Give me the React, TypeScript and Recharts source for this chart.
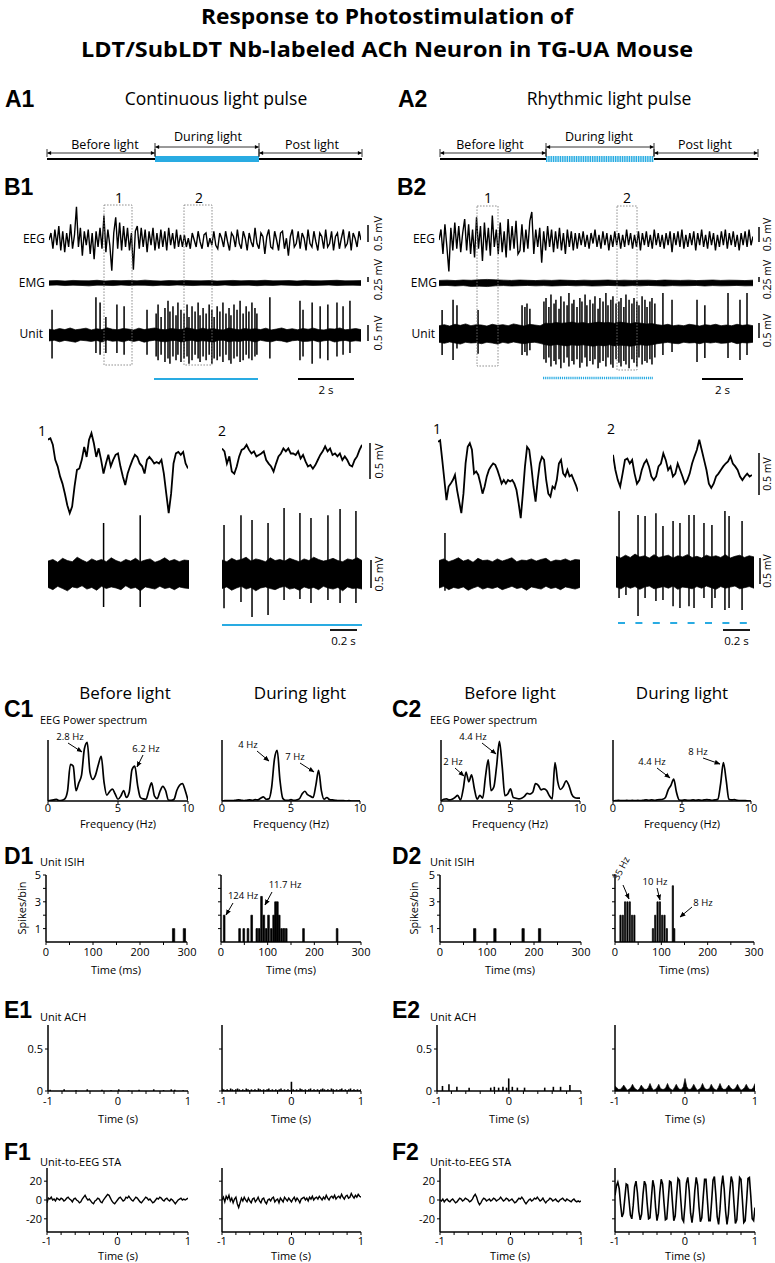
import React from 'react';
import { LineChart, Line, AreaChart, Area, ComposedChart, Bar, XAxis, YAxis } from 'recharts';

const FONT = "'Open Sans', 'DejaVu Sans', sans-serif";
const HEAVY = "'Liberation Sans', Arial, sans-serif";
const LIGHT = '#29abe2';
const ZERO = { top: 0, right: 0, bottom: 0, left: 0 };

// ---- B: long recordings (EEG in uV, sample index on x) ----
const b1Eeg = [
  0, 200, -250, 300, -150, 400, -300, 250, -350, 200, -200, 450, -250, 150, 950, -200, 350, -450, 250, -150,
  300, -400, 200, -550, 250, -200, 350,
  -250, 700, -350, 300, -150, -880, 200, 650, -250, 500, -300, 400, -200, 350, -300, 200, -850, 250,
  400, -250, 350, -200, 300, -350, 250, -150, 350, -300, 200, -250, 300, -200, 250, -300, 350, -150, 200, -250,
  300, -200, 150, -200,
  150, -200, 50, -250, 200, 0, -200, 250, -50, -250, 150, 200, -200, 50, -150, 250, -150, -250, 200, 50, -200, 250,
  -50, -300, 200, 100, -200, 300, -100, -250, 250, 50, -300, 200, -50, -200, 350, -100, -250, 200, 100, -400, 100, 300,
  -200, -250, 250, 0, -300, 200, 250, -250, 50, -450, 100, 300, -200, -100, 250, -250, 200, 50, -300, 300, -100, -200,
  250, -50, -300, 200, 100, -250, 300, -200, -100, 250, -300, 100, 200, -250, 50, 300, -200, -100, 250, -300, 200, 50,
  -200, 250, 0,
];
const b2Eeg = [
  0, 300, -400, 450, -200, -900, 350, -300, 500, -250, 400, -350, 200, 600, -300, 450, -400, 300, -500, 650,
  -250, 400, -600, 500, -300, 350, -450, 700, -200, 300, -400, 500, -350, 250, -500, 600, -300, 400, -250, 550, -400,
  -300, 450, -350, 300, -250, 550, 800, -400, 300, -200, 350, -650, 250, -300, 400, -200, 300, -350, 250, -250,
  350, -300, 200, -400, 300, -200, 250, -300, 200, -250,
  200, -150, 250, -200, 150, -250, 200, -100, 300, -200, 150, -250, 250, -150, 200, -300, 150, -200, 250, -150, 200, -250,
  150, -200, 300, -150, 200, -250, 150, -200, 250, -300, 200, -150, 250, -200, 150, -250, 300, -150, 200, -200, 150, -250,
  200, -150, 250, -350, 200, -150, 250, -200, 300, -250, 150, -200, 200, -150, 250, -300, 200, -150, 300, -200, 150, -250,
  250, -150, 200, -300, 150, -200, 250, -150, 300, -250, 200, -150, 250, -200, 150, -300, 200, -150, 250, -200, 300, -150, 100,
];
const b1EmgHi = [150, 170, 140, 180, 160, 150, 190, 140, 170, 160, 180, 150, 200, 160, 140, 170, 150, 180, 160, 150, 170, 140, 160, 180, 150, 170, 160, 190, 150, 160, 170, 140, 180, 160, 150, 170, 190, 150, 160, 170];
const b1EmgLo = [-160, -140, -180, -150, -170, -200, -150, -160, -180, -140, -170, -150, -160, -190, -150, -170, -140, -160, -180, -150, -160, -170, -140, -180, -160, -150, -190, -160, -170, -140, -160, -180, -150, -170, -160, -140, -180, -160, -150, -170];
const b2EmgHi = [180, 200, 170, 210, 190, 230, 250, 220, 200, 180, 210, 190, 170, 200, 180, 210, 190, 170, 200, 180, 190, 210, 170, 200, 180, 190, 200, 170, 210, 190, 180, 200, 170, 190, 210, 180, 200, 190, 170, 200];
const b2EmgLo = [-190, -170, -210, -180, -240, -220, -250, -200, -180, -210, -190, -170, -200, -180, -210, -190, -170, -200, -180, -210, -200, -170, -190, -210, -180, -200, -170, -190, -210, -180, -200, -190, -170, -210, -180, -200, -190, -170, -200, -190];

// unit background band (uV) and spikes (time s, up/down uV)
const b1UnitHi = [
  160, 140, 180, 150, 195, 145, 165, 190, 140, 175, 150, 200, 160, 145, 180, 165, 140, 190, 150, 175,
  195, 160, 145, 180, 165, 150, 200, 175, 145, 190, 160, 180, 150, 140, 195, 165, 145, 180, 160, 175,
  150, 190, 140, 165, 195, 150, 175, 145, 180, 160, 190, 150, 140, 175, 165, 195, 145, 160, 180, 150,
];
const b1UnitLo = [
  -165, -145, -190, -150, -175, -200, -145, -160, -180, -150, -195, -140, -175, -160, -190, -145, -180, -150, -200, -165,
  -145, -175, -190, -160, -150, -195, -165, -145, -180, -160, -175, -200, -150, -145, -190, -165, -180, -150, -160, -195,
  -145, -175, -190, -150, -165, -200, -160, -145, -180, -175, -150, -190, -160, -145, -195, -165, -150, -180, -160, -175,
];
const b1SpikeT = [
  0.11, 1.70, 1.85, 2.06, 2.46, 2.72, 3.55, 3.88, 3.95, 4.06, 4.20, 4.31, 4.38, 4.49, 4.60, 4.67, 4.78, 4.89, 5.00, 5.07,
  5.18, 5.29, 5.40, 5.47, 5.58, 5.69, 5.80, 5.90, 5.98, 6.09, 6.19, 6.30, 6.41, 6.52, 6.59, 6.70, 6.81, 6.92, 7.03, 7.14,
  7.24, 7.35, 7.46, 7.53, 8.00, 9.09, 9.20, 9.53, 9.82, 10.10, 10.43, 10.65, 10.90,
];
const b1SpikeUp = [
  700, 1050, 900, 500, 850, 800, 700, 600, 850, 500, 750, 950, 650, 800, 550, 900, 700, 600, 850, 500,
  800, 650, 900, 550, 750, 600, 850, 700, 500, 800, 650, 900, 600, 750, 550, 850, 700, 950, 600, 800,
  650, 900, 750, 600, 1050, 950, 700, 900, 800, 850, 900, 800, 950,
];
const b1SpikeDown = [
  -650, -500, -550, -500, -500, -550, -550, -600, -700, -550, -750, -650, -800, -600, -700, -550, -750, -650, -600, -800,
  -700, -550, -650, -750, -600, -700, -550, -800, -650, -700, -600, -750, -550, -700, -800, -650, -600, -750, -700, -550,
  -650, -700, -600, -550, -650, -700, -600, -800, -650, -700, -600, -550, -500,
];
const b2UnitHi = [
  230, 260, 220, 270, 240, 280, 230, 260, 250, 220, 270, 240, 260, 230, 280, 250, 220, 270, 250, 230,
  300, 290, 320, 300, 310, 330, 300, 320, 290, 310, 330, 310, 320, 300, 330, 310, 290, 320, 300, 280,
  290, 260, 240, 270, 230, 250, 230, 270, 250, 220, 260, 240, 270, 230, 250, 230, 270, 240, 260, 230,
];
const b2UnitLo = [
  -230, -260, -220, -250, -280, -230, -250, -240, -270, -230, -250, -280, -230, -260, -220, -250, -270, -240, -230, -260,
  -300, -320, -290, -310, -330, -300, -320, -300, -320, -340, -310, -330, -300, -330, -310, -320, -340, -310, -300, -320,
  -300, -270, -250, -230, -260, -270, -230, -250, -240, -270, -230, -250, -230, -260, -250, -220, -270, -240, -250, -230,
];
const b2SpikeT = [
  0.15, 0.68, 0.87, 1.89, 4.02, 4.16, 4.26, 4.40, 5.08, 5.18, 5.32, 5.42, 5.57, 5.66, 5.81, 5.90, 6.05, 6.20, 6.29, 6.44,
  6.53, 6.68, 6.82, 6.92, 7.07, 7.16, 7.31, 7.45, 7.55, 7.70, 7.79, 7.94, 8.08, 8.18, 8.32, 8.42, 8.57, 8.71, 8.81, 8.95,
  9.05, 9.20, 9.34, 9.44, 9.58, 9.68, 9.83, 9.97, 10.07, 10.21, 10.31, 10.45, 10.84, 11.28, 12.49, 12.87, 13.99, 14.57, 14.91,
];
const b2SpikeUp = [
  670, 950, 800, 670, 800, 750, 850, 700, 900, 1000, 750, 1100, 850, 950, 700, 1050, 900, 800, 1140, 850,
  950, 750, 1000, 900, 1100, 800, 950, 850, 1050, 700, 1000, 900, 1140, 800, 950, 1050, 850, 900, 1000, 750,
  1100, 950, 850, 1000, 900, 800, 1050, 950, 750, 900, 1000, 850, 1140, 950, 950, 800, 1140, 950, 1140,
];
const b2SpikeDown = [
  -580, -720, -400, -550, -580, -500, -600, -450, -700, -800, -650, -900, -750, -850, -700, -950, -800, -650, -900, -750,
  -850, -700, -940, -800, -650, -900, -750, -850, -700, -950, -800, -750, -900, -650, -850, -940, -700, -800, -900, -750,
  -850, -950, -700, -800, -900, -650, -850, -750, -800, -700, -850, -650, -580, -500, -780, -670, -670, -720, -580,
];

// ---- B: expanded epochs 1 and 2 (EEG in 10 uV steps) ----
const b1Zoom1Eeg = [31, 33, 24, 3, -6, -20, -30, -44, -60, -71, -62, -34, -11, -9, 3, 21, 7, 31, 40, 26, 7, 19, 3, -16, -2, 10, -6, 3, 10, 12, -6, -20, -32, -16, -6, 3, 10, 7, -2, -6, -16, 3, 7, 3, -2, 0, -2, 3, -16, -44, -71, -44, -2, 12, 14, 10, 14, -2, -9];
const b1Zoom2Eeg = [16, 12, -5, 5, -16, -19, -9, 5, 14, 16, 21, 14, 9, 12, 5, 7, 9, 12, 0, -5, -9, -16, -5, 5, 9, 16, 12, 16, 9, 9, 7, 12, 2, 7, -2, -9, -7, -12, -7, 0, 7, 12, 19, 12, 16, 7, 9, 5, 9, 0, 5, 0, -7, -9, 0, 5, 14, 21];
const b2Zoom1Eeg = [53, 55, 28, 0, -28, -9, -5, 0, 7, -14, -30, -46, -19, 23, 46, 51, 42, 9, 12, 7, -5, -19, -9, 5, 14, 19, 23, 21, 14, 5, -5, 0, -5, 0, -2, 0, -5, -14, -32, -53, -19, 19, 46, 42, 19, -9, -30, 0, 23, 32, 28, 0, -19, -23, -9, -12, 0, 23, 28, 9, 5, 14, 5, 7, 0, -7, -16];
const b2Zoom2Eeg = [21, 0, -14, -23, -5, 14, 16, 9, 14, -5, -19, -14, 0, 9, 14, 5, -9, -14, -9, 5, 9, 23, 14, 0, 5, -9, -5, 9, 0, -9, -19, -14, -5, 9, 19, 28, 42, 28, 14, 0, -19, -25, -19, -9, -5, 0, 5, 9, 12, 19, 9, 5, 0, -9, -14, -9, -5, -9, -7];

const b1Zoom1Hi = [230, 260, 210, 280, 240, 220, 300, 250, 210, 270, 230, 260, 220, 290, 240, 210, 260, 230, 280, 220, 250, 270, 210, 240, 290, 230, 260, 220, 250, 240];
const b1Zoom1Lo = [-240, -280, -220, -260, -300, -230, -250, -210, -270, -240, -290, -220, -260, -230, -250, -280, -210, -260, -240, -300, -230, -250, -270, -220, -260, -240, -280, -230, -250, -260];
const b1Zoom1SpikeT = [0.41, 0.68];
const b1Zoom1SpikeUp = [910, 1050];
const b1Zoom1SpikeDown = [-590, -590];
const b1Zoom2Hi = [250, 220, 280, 240, 260, 300, 230, 270, 250, 220, 290, 240, 260, 230, 280, 250, 220, 270, 240, 300, 260, 230, 250, 280, 240, 220, 270, 250, 290, 240];
const b1Zoom2Lo = [-260, -230, -290, -250, -220, -270, -240, -300, -250, -230, -260, -280, -240, -220, -270, -250, -290, -230, -260, -240, -280, -220, -250, -270, -240, -300, -230, -260, -250, -270];
const b1Zoom2SpikeT = [0.015, 0.141, 0.223, 0.342, 0.461, 0.579, 0.661, 0.787, 0.877, 0.995];
const b1Zoom2SpikeUp = [875, 1050, 965, 910, 1180, 1090, 1000, 1050, 1160, 1125];
const b1Zoom2SpikeDown = [-610, -500, -770, -730, -465, -445, -520, -465, -520, -520];
const b2Zoom1Hi = [240, 270, 220, 250, 290, 230, 260, 210, 280, 240, 250, 220, 270, 230, 260, 290, 220, 250, 240, 270, 230, 260, 280, 220, 250, 240, 270, 230, 260, 250];
const b2Zoom1Lo = [-250, -220, -280, -240, -260, -230, -290, -250, -220, -270, -240, -260, -230, -280, -250, -220, -260, -240, -290, -230, -250, -270, -220, -260, -240, -280, -230, -250, -270, -240];
const b2Zoom1SpikeT = [0.044];
const b2Zoom1SpikeUp = [730];
const b2Zoom1SpikeDown = [-300];
const b2Zoom2Hi = [280, 250, 300, 260, 320, 270, 290, 250, 310, 260, 280, 300, 250, 290, 270, 310, 260, 280, 250, 300, 270, 290, 260, 310, 250, 280, 300, 260, 290, 270];
const b2Zoom2Lo = [-270, -300, -250, -290, -260, -310, -270, -250, -300, -280, -260, -290, -250, -310, -270, -280, -300, -260, -290, -250, -280, -310, -260, -290, -270, -250, -300, -280, -260, -290];
const b2Zoom2SpikeT = [0.023, 0.075, 0.166, 0.219, 0.301, 0.354, 0.43, 0.482, 0.55, 0.588, 0.663, 0.723, 0.746, 0.821, 0.852, 0.95];
const b2Zoom2SpikeUp = [1090, 180, 1020, 1000, 1050, 820, 910, 875, 1020, 1020, 875, 840, 210, 1090, 1000, 910];
const b2Zoom2SpikeDown = [-465, -410, -785, -465, -520, -500, -610, -645, -610, -645, -465, -645, -465, -680, -645, -680];

// ---- C: EEG power spectra, 0..10 Hz in 0.2 Hz steps ----
const c1Before = [0, 2, 3, 5, 1, 2, 6, 30, 105, 100, 30, 52, 75, 150, 168, 82, 62, 75, 105, 128, 55, 17, 27, 34, 20, 5, 14, 30, 10, 25, 90, 100, 45, 10, 6, 5, 30, 52, 15, 7, 28, 42, 30, 3, 2, 5, 30, 45, 50, 30, 2];
const c1During = [0, 1, 1, 1, 1, 2, 3, 2, 1, 2, 3, 2, 4, 3, 8, 12, 5, 6, 40, 120, 145, 60, 8, 2, 2, 4, 2, 3, 6, 20, 28, 18, 14, 10, 45, 88, 30, 5, 10, 4, 3, 2, 1, 1, 1, 0, 1, 0, 0, 0, 0];
const c2Before = [0, 5, 6, 3, 5, 10, 16, 3, 35, 83, 55, 75, 35, 5, 16, 8, 70, 118, 30, 40, 100, 171, 100, 15, 20, 35, 10, 8, 6, 8, 13, 22, 20, 25, 50, 45, 32, 35, 30, 15, 6, 110, 55, 33, 42, 58, 45, 20, 10, 8, 8];
const c2During = [0, 1, 2, 1, 1, 2, 1, 2, 1, 2, 1, 2, 3, 2, 3, 2, 3, 4, 5, 10, 32, 45, 63, 25, 3, 2, 3, 2, 2, 3, 2, 3, 2, 3, 4, 3, 2, 3, 5, 50, 110, 60, 5, 3, 4, 2, 1, 1, 1, 0, 0];

// ---- D: unit ISIH (bin time ms, spikes/bin) ----
const d1BeforeT = [272, 295];
const d1BeforeN = [1, 1];
const d1DuringT = [7, 40, 49, 58, 66, 77, 82, 87, 92, 97, 102, 108, 113, 117, 121, 125, 130, 135, 140, 177, 249];
const d1DuringN = [2, 1, 1, 1, 2, 1, 1, 3.4, 2, 1, 2, 1, 2, 3, 3, 2, 1, 1, 1, 1, 1];
const d2BeforeT = [74, 117, 177, 212];
const d2BeforeN = [1, 1, 1, 1];
const d2DuringT = [12, 17, 22, 27, 32, 37, 42, 82, 87, 92, 97, 102, 107, 112, 125, 128];
const d2DuringN = [2, 2, 3, 3, 3, 2, 2, 1, 2, 3, 3, 2, 2, 1, 4.2, 1];

// ---- E: unit autocorrelograms ----
const e1BeforeLag = [-0.97, -0.77, -0.6, -0.44, -0.23, -0.1, 0.01, 0.15, 0.3, 0.51, 0.65, 0.76, 0.81, 0.93];
const e1BeforeVal = [0.015, 0.02, 0.01, 0.02, 0.015, 0.01, 0.02, 0.01, 0.015, 0.02, 0.01, 0.02, 0.015, 0.01];
const e1During = [
  0.03, 0.02, 0.01, 0.02, 0.01, 0.03, 0.02, 0.01, 0.02, 0.03, 0.02, 0.01, 0.02, 0.01, 0.03, 0.02, 0.01, 0.02, 0.01, 0.02,
  0.01, 0.03, 0.02, 0.01, 0.02, 0.01, 0.02, 0.03, 0.01, 0.02, 0.01, 0.02, 0.01, 0.02, 0.03, 0.01, 0.02, 0.01, 0.02, 0.01,
  0.11, 0.02, 0.01, 0.02, 0.01, 0.03, 0.02, 0.01, 0.02, 0.01, 0.02, 0.03, 0.01, 0.02, 0.01, 0.02, 0.01, 0.02, 0.03, 0.02,
  0.01, 0.02, 0.01, 0.03, 0.02, 0.01, 0.02, 0.01, 0.02, 0.03, 0.01, 0.02, 0.01, 0.02, 0.03, 0.01, 0.02, 0.01, 0.02, 0.01, 0.02,
];
const e2BeforeLag = [-0.92, -0.83, -0.72, -0.55, -0.25, -0.2, -0.14, -0.08, -0.03, 0, 0.05, 0.12, 0.22, 0.5, 0.62, 0.72, 0.85];
const e2BeforeVal = [0.06, 0.08, 0.05, 0.04, 0.04, 0.05, 0.04, 0.05, 0.04, 0.15, 0.05, 0.04, 0.04, 0.04, 0.05, 0.05, 0.07];
const e2During = [
  0.06, 0.04, 0.02, 0.02, 0.04, 0.07, 0.04, 0.01, 0.02, 0.04, 0.08, 0.04, 0.02, 0.01, 0.03, 0.07, 0.04, 0.02, 0.02, 0.04,
  0.09, 0.04, 0.01, 0.02, 0.04, 0.08, 0.03, 0.02, 0.02, 0.04, 0.09, 0.04, 0.02, 0.01, 0.04, 0.08, 0.04, 0.02, 0.02, 0.05,
  0.15, 0.05, 0.02, 0.02, 0.04, 0.08, 0.04, 0.01, 0.02, 0.04, 0.09, 0.04, 0.02, 0.02, 0.03, 0.08, 0.04, 0.02, 0.01, 0.04,
  0.09, 0.04, 0.02, 0.02, 0.04, 0.07, 0.04, 0.02, 0.02, 0.04, 0.08, 0.04, 0.01, 0.02, 0.04, 0.08, 0.04, 0.02, 0.02, 0.04, 0.09,
];

// ---- F: unit-to-EEG spike-triggered averages, -1..1 s ----
const f1Before = [
  -3, 2, 1, 3, 0, 1, -1, 2, 1, 0, 2, 1, -1, 0, 2, 3, 1, 0, -2, 1, 2, 0, -1, -3, -2, 1, 3, 5, 2, 0,
  1, -1, -3, -4, -1, 0, 2, 1, -2, -3, 0, 2, 4, 6, 5, 2, -1, -3, -4, -2, 0, 2, 3, 1, -1, 0, 3, 2, 4, 2,
  0, -1, 1, 3, 2, 0, -2, -3, -1, 1, 3, 2, 0, 1, -1, -3, -2, 0, 2, 1, 3, 2, 0, -1, 1, 2, 0, -1, 1, 0,
  -2, -4, -2, 0, 1, 2, 0, 1, 0, 1, 2,
];
const f1During = [
  0, 3, -2, 4, 1, 5, -1, 2, -3, 1, 3, -4, -8, -3, 2, -1, 3, 0, -2, 2, -1, -3, 1, 2, -2, 0, 3, -1, -3, 1,
  2, -2, -4, 0, 1, -1, 2, 3, -2, 0, 1, -3, 2, 0, -2, 3, 1, -1, 2, 0, -2, 1, 3, -1, 2, 0, -3, 1, 2, 3,
  0, 2, -1, 3, 1, 4, 0, 2, 3, 1, 4, 2, 0, 3, 1, 5, 2, 0, 3, 4, 2, 5, 1, 3, 4, 2, 6, 3, 1, 4,
  5, 2, 3, 7, 4, 2, 5, 3, 6, 4, 3,
];
const f2Before = [
  0, -1, 1, -2, 0, 1, -1, -2, 0, 1, -1, -3, -2, 0, 2, 1, -1, 0, 2, 1, 0, -2, -1, 1, 4, 6, 3, -2, -5, -3,
  0, 2, 1, -1, 0, 1, -1, 0, 2, 1, -1, 0, 1, 3, 1, -1, 0, 2, 1, -1, 0, 1, -1, -3, -2, 0, 2, 1, 3, 1,
  -2, -4, -2, 0, 1, -1, 0, 2, 1, 3, 1, -1, 0, 2, -1, -3, -1, 0, 2, 1, -1, 0, 1, -1, -2, 0, 1, 2, 0, -1,
  1, 0, -1, -2, 0, 1, -1, -2, -1, -2, -1,
];
const f2During = [
  5, 15, 19, 12, -5, -18, -14, 2, 17, 16, 0, -16, -20, -6, 14, 20, 8, -12, -21, -15, 6, 20, 16, -4, -20, -19, 2, 21, 14, -8,
  -22, -14, 8, 22, 17, -3, -21, -20, 0, 20, 19, -2, -22, -17, 5, 23, 21, 0, -20, -23, -5, 18, 24, 10, -14, -24, -12, 10, 24, 16,
  -7, -23, -19, 3, 22, 22, 0, -22, -22, -2, 21, 25, 6, -18, -26, -10, 14, 26, 12, -12, -26, -15, 8, 25, 19, -4, -25, -21, 2, 24,
  22, 0, -24, -22, -1, 23, 24, 4, -20, -22, -8,
];

const Abs = ({ x, y, children }: any) => (
  <div style={{ position: 'absolute', left: x, top: y }}>{children}</div>
);

function Trace({ x, y, w, h, amp, values, sw = 1.3 }: any) {
  const data = values.map((v: number, i: number) => ({ i, v }));
  return (
    <Abs x={x} y={y}>
      <LineChart width={w} height={h} data={data} margin={ZERO}>
        <XAxis dataKey="i" type="number" domain={[0, values.length - 1]} hide />
        <YAxis type="number" domain={[-amp, amp]} hide allowDataOverflow />
        <Line dataKey="v" type="linear" stroke="#000" strokeWidth={sw} dot={false} isAnimationActive={false} />
      </LineChart>
    </Abs>
  );
}

function Band({ x, y, w, h, amp, hi, lo, dur }: any) {
  const data = hi.map((v: number, i: number) => ({ t: (dur * i) / (hi.length - 1), r: [lo[i], v] }));
  return (
    <Abs x={x} y={y}>
      <AreaChart width={w} height={h} data={data} margin={ZERO}>
        <XAxis dataKey="t" type="number" domain={[0, dur]} hide />
        <YAxis type="number" domain={[-amp, amp]} hide allowDataOverflow />
        <Area dataKey="r" type="linear" stroke="#000" strokeWidth={0.7} fill="#000" fillOpacity={1} isAnimationActive={false} />
      </AreaChart>
    </Abs>
  );
}

function Unit({ x, y, w, h, amp, dur, hi, lo, spT, spUp, spDn }: any) {
  const spikes: any[] = [];
  spT.forEach((t: number, k: number) => {
    spikes.push({ t, s: 0 }, { t, s: spUp[k] }, { t, s: spDn[k] }, { t, s: 0 });
  });
  return (
    <>
      <Band x={x} y={y} w={w} h={h} amp={amp} hi={hi} lo={lo} dur={dur} />
      <Abs x={x} y={y}>
        <LineChart width={w} height={h} data={spikes} margin={ZERO}>
          <XAxis dataKey="t" type="number" domain={[0, dur]} hide />
          <YAxis type="number" domain={[-amp, amp]} hide allowDataOverflow />
          <Line dataKey="s" type="linear" stroke="#000" strokeWidth={1.5} dot={false} isAnimationActive={false} />
        </LineChart>
      </Abs>
    </>
  );
}

const ML = 32, MR = 14, MT = 10, MB = 22;
const only = (labels: number[]) => (v: number) =>
  labels.some((l) => Math.abs(l - v) < 1e-9) ? String(v) : '';
const TICK = { fontSize: 11, fill: '#000', fontFamily: FONT };
const AXIS = { stroke: '#000', strokeWidth: 1.5 };

function Plot(p: any) {
  return (
    <Abs x={p.x - ML} y={p.y - MT}>
      <ComposedChart width={ML + p.w + MR} height={MT + p.h + MB} data={p.data}
        margin={{ top: MT, right: MR, bottom: 0, left: 0 }}>
        <XAxis dataKey={p.xKey} type="number" domain={p.xDomain} ticks={p.xTicks} interval={0}
          tickFormatter={only(p.xLabels)} height={MB} tickSize={3} tickMargin={p.gap ?? 2}
          axisLine={AXIS} tickLine={{ stroke: '#000' }} tick={TICK} allowDataOverflow />
        <YAxis type="number" domain={p.yDomain} width={ML} ticks={p.yTicks} interval={0}
          tickFormatter={only(p.yLabels || [])} tickSize={3} tickMargin={2} axisLine={AXIS}
          tickLine={p.yTicks ? { stroke: '#000' } : false} tick={p.yTicks ? TICK : false} allowDataOverflow />
        {p.children}
      </ComposedChart>
    </Abs>
  );
}

const spec = (arr: number[]) => arr.map((p, i) => ({ f: i * 0.2, p }));
const isih = (t: number[], n: number[]) => t.map((v, i) => ({ t: v, n: n[i] }));
const lagBins = (arr: number[]) => arr.map((v, i) => ({ t: -1 + i * 0.025, v }));
const sparse = (lag: number[], val: number[]) => lag.map((t, i) => ({ t, v: val[i] }));
const sta = (arr: number[]) => arr.map((v, i) => ({ t: -1 + (2 * i) / (arr.length - 1), v }));

const ISI_TICKS = [0, 50, 100, 150, 200, 250, 300];
const SEC_TICKS = [-1, -0.8, -0.6, -0.4, -0.2, 0, 0.2, 0.4, 0.6, 0.8, 1];

function SpecPlot({ x, w, arr }: any) {
  return (
    <Plot x={x} y={740} w={w} h={61} data={spec(arr)} xKey="f" xDomain={[0, 10]} yDomain={[0, 175]}
      xTicks={[0, 5, 10]} xLabels={[0, 5, 10]} gap={0}>
      <Line dataKey="p" type="monotone" stroke="#000" strokeWidth={1.7} dot={false} isAnimationActive={false} />
    </Plot>
  );
}
function IsiPlot({ x, w, data, labels }: any) {
  return (
    <Plot x={x} y={875} w={w} h={67} data={data} xKey="t" xDomain={[0, 300]} yDomain={[0, 5]}
      xTicks={ISI_TICKS} xLabels={[0, 100, 200, 300]} yTicks={[1, 2, 3, 4, 5]} yLabels={labels ? [1, 3, 5] : []} gap={3}>
      <Bar dataKey="n" fill="#000" stroke="#000" strokeWidth={0.7} barSize={2.3} isAnimationActive={false} />
    </Plot>
  );
}
function AchPlot({ x, w, data, labels, area }: any) {
  return (
    <Plot x={x} y={1025} w={w} h={66} data={data} xKey="t" xDomain={[-1, 1]} yDomain={[0, 0.786]}
      xTicks={SEC_TICKS} xLabels={[-1, 0, 1]} yTicks={[0, 0.5]} yLabels={labels ? [0, 0.5] : []} gap={3}>
      {area ? (
        <Area dataKey="v" type="linear" stroke="#000" strokeWidth={0.6} fill="#000" fillOpacity={1} isAnimationActive={false} />
      ) : (
        <Bar dataKey="v" fill="#000" barSize={1.6} isAnimationActive={false} />
      )}
    </Plot>
  );
}
function StaPlot({ x, w, arr, labels, sw = 1.4 }: any) {
  return (
    <Plot x={x} y={1168} w={w} h={64} data={sta(arr)} xKey="t" xDomain={[-1, 1]} yDomain={[-34, 34]}
      xTicks={SEC_TICKS} xLabels={[-1, 0, 1]} yTicks={[-20, 0, 20]} yLabels={labels ? [-20, 0, 20] : []}>
      <Line dataKey="v" type="linear" stroke="#000" strokeWidth={sw} dot={false} isAnimationActive={false} />
    </Plot>
  );
}

function Tx({ x, y, s = 11, a = 'middle', b = false, f = FONT, r = 0, w, children }: any) {
  return (
    <text x={x} y={y} fontSize={s} textAnchor={a} fontWeight={b ? 700 : 400} fontFamily={f} fill="#000"
      transform={r ? `rotate(${r} ${x} ${y})` : undefined}
      textLength={w} lengthAdjust={w ? 'spacingAndGlyphs' : undefined}>{children}</text>
  );
}
const PL = ({ x, y, children }: any) => (
  <Tx x={x} y={y} s={23} a="start" b f={HEAVY}>{children}</Tx>
);
const Ar = ({ x1, y1, x2, y2 }: any) => (
  <line x1={x1} y1={y1} x2={x2} y2={y2} stroke="#000" strokeWidth={1} markerEnd="url(#ah)" />
);
function Span({ x1, x2, y, down }: any) {
  return (
    <g stroke="#000" strokeWidth={0.8}>
      <line x1={x1} y1={y - 4} x2={x1} y2={y + down} />
      <line x1={x2} y1={y - 4} x2={x2} y2={y + down} />
      <line x1={x1 + 0.5} y1={y} x2={x2 - 0.5} y2={y} markerStart="url(#tl)" markerEnd="url(#tl)" />
    </g>
  );
}
const VBar = ({ x, y1, y2, label, tx, s = 11 }: any) => (
  <g>
    <line x1={x} y1={y1} x2={x} y2={y2} stroke="#000" strokeWidth={1.5} />
    <Tx x={tx} y={(y1 + y2) / 2} s={s} r={-90}>{label}</Tx>
  </g>
);
const HBar = ({ x1, x2, y, label }: any) => (
  <g>
    <line x1={x1} y1={y} x2={x2} y2={y} stroke="#000" strokeWidth={1.8} />
    <Tx x={(x1 + x2) / 2} y={y + 15} s={11.5}>{label}</Tx>
  </g>
);
const Box = ({ x, y, w, h }: any) => (
  <rect x={x} y={y} width={w} height={h} fill="none" stroke="#777" strokeWidth={0.8} strokeDasharray="1.6 1.4" />
);

function Overlay() {
  return (
    <svg width={775} height={1263} style={{ position: 'absolute', left: 0, top: 0, pointerEvents: 'none' }}>
      <defs>
        <marker id="ah" viewBox="0 0 10 10" refX="9" refY="5" markerWidth="6" markerHeight="6"
          orient="auto-start-reverse" markerUnits="userSpaceOnUse">
          <path d="M0,1 L10,5 L0,9 z" fill="#000" />
        </marker>
        <marker id="tl" viewBox="0 0 10 10" refX="9" refY="5" markerWidth="5" markerHeight="4"
          orient="auto-start-reverse" markerUnits="userSpaceOnUse">
          <path d="M0,0 L10,5 L0,10 z" fill="#000" />
        </marker>
      </defs>

      <Tx x={387} y={24} s={21} b w={372}>Response to Photostimulation of</Tx>
      <Tx x={387} y={57} s={21} b w={612}>LDT/SubLDT Nb-labeled ACh Neuron in TG-UA Mouse</Tx>

      {/* A */}
      <PL x={5} y={107}>A1</PL>
      <Tx x={216} y={105} s={17.5}>Continuous light pulse</Tx>
      <PL x={398} y={107}>A2</PL>
      <Tx x={609} y={105} s={17.5}>Rhythmic light pulse</Tx>
      <line x1={47} y1={159} x2={362} y2={159} stroke="#000" strokeWidth={2} />
      <rect x={155} y={156} width={104} height={6} fill={LIGHT} />
      <Span x1={47} x2={155} y={153} down={4} />
      <Span x1={155} x2={259} y={147} down={9} />
      <Span x1={259} x2={362} y={153} down={4} />
      <Tx x={105} y={149} s={12.5}>Before light</Tx>
      <Tx x={208} y={141} s={12.5}>During light</Tx>
      <Tx x={312} y={149} s={12.5}>Post light</Tx>
      <line x1={440} y1={159} x2={758} y2={159} stroke="#000" strokeWidth={2} />
      <rect x={546} y={156} width={108} height={6} fill="#c6ebf8" />
      <line x1={546} y1={159} x2={654} y2={159} stroke={LIGHT} strokeWidth={6} strokeDasharray="1.3 1" />
      <Span x1={440} x2={546} y={153} down={4} />
      <Span x1={546} x2={654} y={147} down={9} />
      <Span x1={654} x2={758} y={153} down={4} />
      <Tx x={490} y={149} s={12.5}>Before light</Tx>
      <Tx x={599} y={141} s={12.5}>During light</Tx>
      <Tx x={705} y={149} s={12.5}>Post light</Tx>

      {/* B */}
      <PL x={4} y={195}>B1</PL>
      <PL x={397} y={195}>B2</PL>
      <Tx x={45} y={243} s={12} a="end">EEG</Tx>
      <Tx x={45} y={287} s={12} a="end">EMG</Tx>
      <Tx x={43} y={338} s={12} a="end">Unit</Tx>
      <Tx x={435} y={243} s={12} a="end">EEG</Tx>
      <Tx x={437} y={287} s={12} a="end">EMG</Tx>
      <Tx x={435} y={338} s={12} a="end">Unit</Tx>
      <Box x={104} y={205} w={28} h={160} />
      <Box x={184} y={205} w={28} h={160} />
      <Box x={477} y={206} w={21} h={160} />
      <Box x={617} y={206} w={20} h={164} />
      <Tx x={119} y={203} s={14}>1</Tx>
      <Tx x={199} y={203} s={14}>2</Tx>
      <Tx x={488} y={203} s={14}>1</Tx>
      <Tx x={627} y={203} s={14}>2</Tx>
      <VBar x={368} y1={225} y2={242} label="0.5 mV" tx={382} />
      <VBar x={368} y1={277} y2={282} label="0.25 mV" tx={382} />
      <VBar x={368} y1={325} y2={341} label="0.5 mV" tx={382} />
      <VBar x={759} y1={227} y2={242} label="0.5 mV" tx={771} s={10.5} />
      <VBar x={759} y1={277} y2={282} label="0.25 mV" tx={771} s={10.5} />
      <VBar x={759} y1={323} y2={338} label="0.5 mV" tx={771} s={10.5} />
      <line x1={154} y1={379} x2={258} y2={379} stroke={LIGHT} strokeWidth={2} />
      <line x1={543} y1={378} x2={653} y2={378} stroke={LIGHT} strokeWidth={2.5} strokeDasharray="1.2 0.9" />
      <HBar x1={298} x2={354} y={379} label="2 s" />
      <HBar x1={702} x2={743} y={379} label="2 s" />

      <Tx x={42} y={436} s={14}>1</Tx>
      <Tx x={222} y={436} s={14}>2</Tx>
      <Tx x={437} y={434} s={14}>1</Tx>
      <Tx x={611} y={434} s={14}>2</Tx>
      <VBar x={370} y1={443} y2={479} label="0.5 mV" tx={383} />
      <VBar x={759} y1={453} y2={495} label="0.5 mV" tx={771} s={10.5} />
      <VBar x={371} y1={560} y2={588} label="0.5 mV" tx={383} />
      <VBar x={760} y1={558} y2={584} label="0.5 mV" tx={771} s={10.5} />
      <line x1={222} y1={625} x2={362} y2={625} stroke={LIGHT} strokeWidth={2} />
      <line x1={618} y1={623} x2={748} y2={623} stroke={LIGHT} strokeWidth={2} strokeDasharray="7 10.4" />
      <HBar x1={330} x2={357} y={630} label="0.2 s" />
      <HBar x1={723} x2={750} y={630} label="0.2 s" />

      {/* C */}
      <Tx x={125} y={699} s={17}>Before light</Tx>
      <Tx x={300} y={699} s={17}>During light</Tx>
      <Tx x={510} y={699} s={17}>Before light</Tx>
      <Tx x={682} y={699} s={17}>During light</Tx>
      <PL x={4} y={717}>C1</PL>
      <PL x={392} y={717}>C2</PL>
      <Tx x={40} y={724} s={11} a="start">EEG Power spectrum</Tx>
      <Tx x={430} y={724} s={11} a="start">EEG Power spectrum</Tx>
      <Tx x={118} y={828} s={11}>Frequency (Hz)</Tx>
      <Tx x={291} y={828} s={11}>Frequency (Hz)</Tx>
      <Tx x={510} y={828} s={11}>Frequency (Hz)</Tx>
      <Tx x={682} y={828} s={11}>Frequency (Hz)</Tx>
      <Tx x={70} y={740} s={9.5}>2.8 Hz</Tx>
      <Ar x1={68} y1={743} x2={82} y2={752} />
      <Tx x={146} y={752} s={9.5}>6.2 Hz</Tx>
      <Ar x1={143} y1={755} x2={137} y2={767} />
      <Tx x={248} y={748} s={9.5}>4 Hz</Tx>
      <Ar x1={257} y1={751} x2={269} y2={761} />
      <Tx x={295} y={760} s={9.5}>7 Hz</Tx>
      <Ar x1={300} y1={763} x2={314} y2={772} />
      <Tx x={473} y={740} s={9.5}>4.4 Hz</Tx>
      <Ar x1={482} y1={743} x2={496} y2={754} />
      <Tx x={453} y={765} s={9.5}>2 Hz</Tx>
      <Ar x1={455} y1={768} x2={464} y2={776} />
      <Tx x={652} y={765} s={9.5}>4.4 Hz</Tx>
      <Ar x1={657} y1={768} x2={670} y2={778} />
      <Tx x={698} y={755} s={9.5}>8 Hz</Tx>
      <Ar x1={703} y1={758} x2={720} y2={764} />

      {/* D */}
      <PL x={4} y={864}>D1</PL>
      <PL x={392} y={864}>D2</PL>
      <Tx x={40} y={866} s={11} a="start">Unit ISIH</Tx>
      <Tx x={430} y={866} s={11} a="start">Unit ISIH</Tx>
      <Tx x={26} y={908} s={11} r={-90}>Spikes/bin</Tx>
      <Tx x={418} y={908} s={11} r={-90}>Spikes/bin</Tx>
      <Tx x={116} y={974} s={11}>Time (ms)</Tx>
      <Tx x={291} y={974} s={11}>Time (ms)</Tx>
      <Tx x={510} y={974} s={11}>Time (ms)</Tx>
      <Tx x={684} y={974} s={11}>Time (ms)</Tx>
      <Tx x={243} y={899} s={9.5}>124 Hz</Tx>
      <Ar x1={233} y1={903} x2={226} y2={915} />
      <Tx x={285} y={888} s={9.5}>11.7 Hz</Tx>
      <Ar x1={272} y1={892} x2={265} y2={905} />
      <Tx x={655} y={885} s={9.5}>10 Hz</Tx>
      <Ar x1={657} y1={888} x2={660} y2={900} />
      <Tx x={703} y={906} s={9.5}>8 Hz</Tx>
      <Ar x1={692} y1={907} x2={680} y2={917} />
      <Tx x={624} y={870} s={9.5} r={-62}>35 Hz</Tx>
      <Ar x1={623} y1={885} x2={629} y2={899} />

      {/* E */}
      <PL x={4} y={1018}>E1</PL>
      <PL x={392} y={1018}>E2</PL>
      <Tx x={40} y={1021} s={11} a="start">Unit ACH</Tx>
      <Tx x={430} y={1021} s={11} a="start">Unit ACH</Tx>
      <Tx x={118} y={1123} s={11}>Time (s)</Tx>
      <Tx x={291} y={1123} s={11}>Time (s)</Tx>
      <Tx x={509} y={1123} s={11}>Time (s)</Tx>
      <Tx x={685} y={1123} s={11}>Time (s)</Tx>

      {/* F */}
      <PL x={4} y={1160}>F1</PL>
      <PL x={392} y={1160}>F2</PL>
      <Tx x={40} y={1166} s={11} a="start">Unit-to-EEG STA</Tx>
      <Tx x={430} y={1166} s={11} a="start">Unit-to-EEG STA</Tx>
      <Tx x={118} y={1260} s={11}>Time (s)</Tx>
      <Tx x={291} y={1260} s={11}>Time (s)</Tx>
      <Tx x={510} y={1260} s={11}>Time (s)</Tx>
      <Tx x={685} y={1260} s={11}>Time (s)</Tx>
    </svg>
  );
}

export default function App() {
  return (
    <div style={{ position: 'absolute', left: 0, top: 0, width: 775, height: 1263, background: '#fff', overflow: 'hidden', fontFamily: FONT }}>
      {/* B long traces */}
      <Trace x={49} y={198} w={312} h={84} amp={1200} values={b1Eeg} sw={1.4} />
      <Trace x={439} y={198} w={314} h={84} amp={1200} values={b2Eeg} sw={1.4} />
      <Band x={49} y={273} w={312} h={20} amp={700} hi={b1EmgHi} lo={b1EmgLo} dur={1} />
      <Band x={439} y={273} w={314} h={20} amp={700} hi={b2EmgHi} lo={b2EmgLo} dur={1} />
      <Unit x={49} y={290} w={312} h={90} amp={1250} dur={11.3} hi={b1UnitHi} lo={b1UnitLo}
        spT={b1SpikeT} spUp={b1SpikeUp} spDn={b1SpikeDown} />
      <Unit x={439} y={289} w={314} h={90} amp={1250} dur={15.2} hi={b2UnitHi} lo={b2UnitLo}
        spT={b2SpikeT} spUp={b2SpikeUp} spDn={b2SpikeDown} />

      {/* B expanded epochs */}
      <Trace x={48} y={402} w={140} h={120} amp={83.3} values={b1Zoom1Eeg} sw={1.8} />
      <Trace x={222} y={400} w={140} h={120} amp={83.3} values={b1Zoom2Eeg} sw={1.8} />
      <Trace x={438} y={420} w={140} h={120} amp={83.3} values={b2Zoom1Eeg} sw={1.8} />
      <Trace x={613} y={410} w={139} h={120} amp={83.3} values={b2Zoom2Eeg} sw={1.8} />
      <Unit x={48} y={504} w={141} h={140} amp={1250} dur={1.04} hi={b1Zoom1Hi} lo={b1Zoom1Lo}
        spT={b1Zoom1SpikeT} spUp={b1Zoom1SpikeUp} spDn={b1Zoom1SpikeDown} />
      <Unit x={222} y={504} w={140} h={140} amp={1250} dur={1.04} hi={b1Zoom2Hi} lo={b1Zoom2Lo}
        spT={b1Zoom2SpikeT} spUp={b1Zoom2SpikeUp} spDn={b1Zoom2SpikeDown} />
      <Unit x={439} y={504} w={141} h={140} amp={1250} dur={1.04} hi={b2Zoom1Hi} lo={b2Zoom1Lo}
        spT={b2Zoom1SpikeT} spUp={b2Zoom1SpikeUp} spDn={b2Zoom1SpikeDown} />
      <Unit x={616} y={502} w={138} h={140} amp={1250} dur={1.04} hi={b2Zoom2Hi} lo={b2Zoom2Lo}
        spT={b2Zoom2SpikeT} spUp={b2Zoom2SpikeUp} spDn={b2Zoom2SpikeDown} />

      {/* C spectra */}
      <SpecPlot x={48} w={140} arr={c1Before} />
      <SpecPlot x={222} w={138} arr={c1During} />
      <SpecPlot x={441} w={139} arr={c2Before} />
      <SpecPlot x={613} w={138} arr={c2During} />

      {/* D ISIH */}
      <IsiPlot x={46} w={141} data={isih(d1BeforeT, d1BeforeN)} labels />
      <IsiPlot x={221} w={140} data={isih(d1DuringT, d1DuringN)} />
      <IsiPlot x={440} w={141} data={isih(d2BeforeT, d2BeforeN)} labels />
      <IsiPlot x={615} w={139} data={isih(d2DuringT, d2DuringN)} />

      {/* E ACH */}
      <AchPlot x={48} w={140} data={sparse(e1BeforeLag, e1BeforeVal)} labels />
      <AchPlot x={222} w={139} data={lagBins(e1During)} />
      <AchPlot x={437} w={144} data={sparse(e2BeforeLag, e2BeforeVal)} labels />
      <AchPlot x={615} w={140} data={lagBins(e2During)} area />

      {/* F STA */}
      <StaPlot x={47} w={141} arr={f1Before} labels />
      <StaPlot x={222} w={139} arr={f1During} />
      <StaPlot x={440} w={141} arr={f2Before} labels />
      <StaPlot x={615} w={140} arr={f2During} sw={1.6} />

      <Overlay />
    </div>
  );
}
